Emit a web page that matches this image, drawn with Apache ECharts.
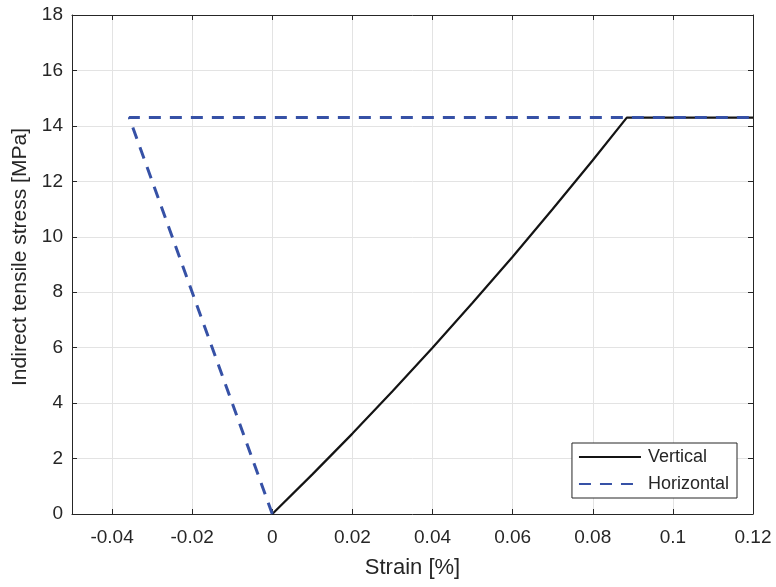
<!DOCTYPE html>
<html>
<head>
<meta charset="utf-8">
<script src="https://cdn.jsdelivr.net/npm/echarts@6/dist/echarts.min.js"></script>
<style>
  html, body { margin: 0; padding: 0; background: #fff; }
  #chart { width: 776px; height: 587px; }
</style>
</head>
<body>
<div id="chart"></div>
<script>
// Stress–strain response of an indirect tensile test
const verticalStrain = [0, 0.01, 0.02, 0.03, 0.04, 0.05, 0.06, 0.07, 0.08, 0.0885, 0.12];
const verticalStress = [0, 1.43, 2.90, 4.43, 6.0, 7.62, 9.28, 11.0, 12.76, 14.3, 14.3];
const horizontalStrain = [0, -0.02, -0.0357, 0.12];
const horizontalStress = [0, 8.0, 14.3, 14.3];
const xTicks = [-0.04, -0.02, 0, 0.02, 0.04, 0.06, 0.08, 0.1, 0.12];
const yTicks = [0, 2, 4, 6, 8, 10, 12, 14, 16, 18];
const yTitle = 'Indirect tensile stress [MPa]';
const xTitle = 'Strain [%]';

const ink = '#262626';
const font = 'Liberation Sans, Arial, Helvetica, sans-serif';
const pairs = (xs, ys) => xs.map((x, i) => [x, ys[i]]);

const chart = echarts.init(document.getElementById('chart'), null, { renderer: 'canvas' });

const baseX = {
  type: 'value', min: -0.05, max: 0.12,
  axisLine: { show: true, onZero: false, lineStyle: { color: ink, width: 1 } },
  axisTick: { show: true, inside: true, length: 5, lineStyle: { color: ink },
    customValues: xTicks },
  splitLine: { show: false }
};
const baseY = {
  type: 'value', min: 0, max: 18, interval: 2,
  axisLine: { show: true, onZero: false, lineStyle: { color: ink, width: 1 } },
  axisTick: { show: true, inside: true, length: 5, lineStyle: { color: ink },
    customValues: yTicks },
  splitLine: { show: false }
};

chart.setOption({
  animation: false,
  backgroundColor: '#ffffff',
  grid: { left: 72, right: 23, top: 15, bottom: 73, containLabel: false },
  xAxis: [
    Object.assign({}, baseX, {
      position: 'bottom',
      name: xTitle, nameLocation: 'middle', nameGap: 43,
      nameTextStyle: { color: ink, fontSize: 22, fontFamily: font },
      axisLabel: { show: true, color: ink, fontSize: 19, fontFamily: font, margin: 14,
        customValues: xTicks,
        formatter: v => String(Math.round(v * 1000) / 1000) },
      splitLine: { show: true, lineStyle: { color: '#e3e3e3', width: 1 } }
    }),
    Object.assign({}, baseX, { position: 'top', axisLabel: { show: false } })
  ],
  yAxis: [
    Object.assign({}, baseY, {
      position: 'left',
      axisLabel: { show: true, color: ink, fontSize: 19, fontFamily: font, margin: 9,
        customValues: yTicks },
      splitLine: { show: true, lineStyle: { color: '#e3e3e3', width: 1 } }
    }),
    Object.assign({}, baseY, { position: 'right', axisLabel: { show: false } })
  ],
  graphic: [{
    type: 'text', x: 20, y: 257, rotation: Math.PI / 2, silent: true,
    style: { text: yTitle, fill: ink, font: '21px ' + font,
      textAlign: 'center', textVerticalAlign: 'middle' }
  }],
  legend: {
    right: 39, bottom: 89, orient: 'vertical',
    backgroundColor: '#fff', borderColor: ink, borderWidth: 1, borderRadius: 0,
    padding: [5, 8, 5, 6], itemGap: 9, itemWidth: 62, itemHeight: 12,
    itemStyle: { opacity: 0 },
    textStyle: { color: ink, fontSize: 18, fontFamily: font, padding: [0, 0, 0, 2] },
    data: ['Vertical', 'Horizontal']
  },
  series: [
    {
      name: 'Vertical', type: 'line', xAxisIndex: 0, yAxisIndex: 0,
      data: pairs(verticalStrain, verticalStress), showSymbol: false, symbol: 'none',
      smooth: false, lineStyle: { color: '#141414', width: 2.2 },
      itemStyle: { color: '#141414' }, z: 2
    },
    {
      name: 'Horizontal', type: 'line', xAxisIndex: 0, yAxisIndex: 0,
      data: pairs(horizontalStrain, horizontalStress), showSymbol: false, symbol: 'none',
      lineStyle: { color: '#3651a6', width: 3, type: [12, 9] },
      itemStyle: { color: '#3651a6' }, z: 3
    }
  ]
});
</script>
</body>
</html>
